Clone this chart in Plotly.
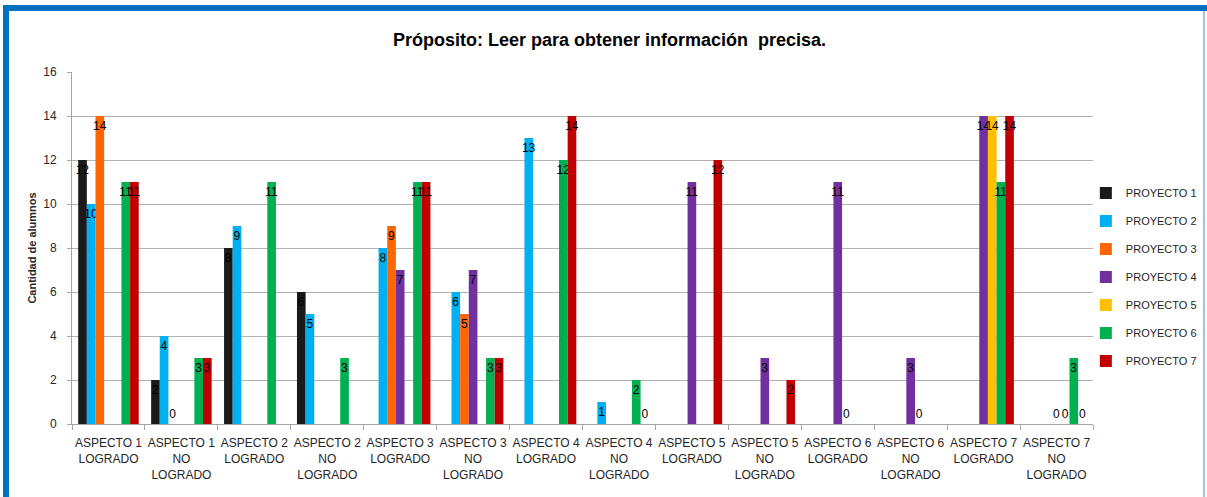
import plotly.graph_objects as go

categories = [
    "ASPECTO 1<br>LOGRADO", "ASPECTO 1<br>NO<br>LOGRADO",
    "ASPECTO 2<br>LOGRADO", "ASPECTO 2<br>NO<br>LOGRADO",
    "ASPECTO 3<br>LOGRADO", "ASPECTO 3<br>NO<br>LOGRADO",
    "ASPECTO 4<br>LOGRADO", "ASPECTO 4<br>NO<br>LOGRADO",
    "ASPECTO 5<br>LOGRADO", "ASPECTO 5<br>NO<br>LOGRADO",
    "ASPECTO 6<br>LOGRADO", "ASPECTO 6<br>NO<br>LOGRADO",
    "ASPECTO 7<br>LOGRADO", "ASPECTO 7<br>NO<br>LOGRADO",
]

series_names = ["PROYECTO 1", "PROYECTO 2", "PROYECTO 3", "PROYECTO 4",
                "PROYECTO 5", "PROYECTO 6", "PROYECTO 7"]

proyecto_1 = [12, 2, 8, 6, None, None, None, None, None, None, None, None, None, None]
proyecto_2 = [10, 4, 9, 5, 8, 6, 13, 1, None, None, None, None, None, None]
proyecto_3 = [14, 0, None, None, 9, 5, None, None, None, None, None, None, None, None]
proyecto_4 = [None, None, None, None, 7, 7, None, None, 11, 3, 11, 3, 14, 0]
proyecto_5 = [None, None, None, None, None, None, None, None, None, None, 0, 0, 14, 0]
proyecto_6 = [11, 3, 11, 3, 11, 3, 12, 2, None, None, None, None, 11, 3]
proyecto_7 = [11, 3, None, None, 11, 3, 14, 0, 12, 2, None, None, 14, 0]

series_values = [proyecto_1, proyecto_2, proyecto_3, proyecto_4,
                 proyecto_5, proyecto_6, proyecto_7]
series_colors = ["#1a1a1a", "#00b0f0", "#ff6600", "#7030a0",
                 "#ffc000", "#00b050", "#c00000"]

y_ticks = [0, 2, 4, 6, 8, 10, 12, 14, 16]

SANS = "Liberation Sans, Arial, sans-serif"

fig = go.Figure()
for i, (name, vals, col) in enumerate(zip(series_names, series_values, series_colors)):
    texts = ["" if v is None else str(v) for v in vals]
    positions = ["outside" if v == 0 else "inside" for v in vals]
    fig.add_trace(go.Bar(
        x=categories, y=vals, name=name,
        marker=dict(color=col, line=dict(width=0)),
        text=texts, textposition=positions, insidetextanchor="end",
        textangle=0, constraintext="none", cliponaxis=False,
        textfont=dict(family=SANS, size=12, color="#000000"),
        legendgroup=f"g{i}",
        hoverinfo="x+y+name",
    ))

W, H = 1207, 497
L, R, T, B = 72, 1093, 72, 424
pw, ph = R - L, B - T


def px_x(x):
    return (x - L) / pw


def px_y(y):
    return (B - y) / ph


shapes = [
    dict(type="rect", xref="paper", yref="paper",
         x0=px_x(3), x1=px_x(1207), y0=px_y(11), y1=px_y(5),
         fillcolor="#0070c0", line=dict(width=0), layer="above"),
    dict(type="rect", xref="paper", yref="paper",
         x0=px_x(3), x1=px_x(9), y0=px_y(497), y1=px_y(5),
         fillcolor="#0070c0", line=dict(width=0), layer="above"),
    dict(type="line", xref="paper", yref="paper",
         x0=px_x(1204), x1=px_x(1204), y0=px_y(497), y1=px_y(11),
         line=dict(color="#9dc3e6", width=2), layer="above"),
]

fig.update_layout(
    width=W, height=H,
    margin=dict(l=L, r=W - R, t=T, b=H - B, autoexpand=False),
    paper_bgcolor="white", plot_bgcolor="white",
    barmode="group", bargap=0.17, bargroupgap=0,
    title=dict(text="<b>Próposito: Leer para obtener información  precisa.</b>",
               x=0.505, xref="container", y=1 - 40 / H, yref="container",
               xanchor="center", yanchor="middle",
               font=dict(family=SANS, size=18, color="#000000")),
    font=dict(family=SANS, size=11, color="#262626"),
    xaxis=dict(
        showgrid=False, showline=True, linecolor="#a6a6a6", linewidth=1,
        ticks="outside", tickson="boundaries", ticklen=5, tickcolor="#a6a6a6",
        tickangle=0, automargin=False, ticklabelstandoff=8,
        tickfont=dict(family=SANS, size=12, color="#262626"),
    ),
    yaxis=dict(
        range=[0, 16], tickvals=y_ticks, showgrid=True, gridcolor="#b3b3b3",
        gridwidth=1, showline=True, linecolor="#a6a6a6", linewidth=1,
        ticks="outside", ticklen=4, tickcolor="#a6a6a6", zeroline=False,
        automargin=False, ticklabelstandoff=8,
        tickfont=dict(family=SANS, size=12, color="#262626"),
        title=dict(text="<b>Cantidad de alumnos</b>", standoff=4,
                   font=dict(family=SANS, size=11, color="#262626")),
    ),
    legend=dict(x=0.993, xanchor="left", y=px_y(277), yanchor="middle",
                tracegroupgap=9, itemwidth=30,
                font=dict(family=SANS, size=11, color="#262626"),
                bgcolor="rgba(0,0,0,0)"),
    shapes=shapes,
    showlegend=True,
)

fig.write_html("out.html", config={"displayModeBar": False},
               post_script="document.body.style.margin='0px';")
